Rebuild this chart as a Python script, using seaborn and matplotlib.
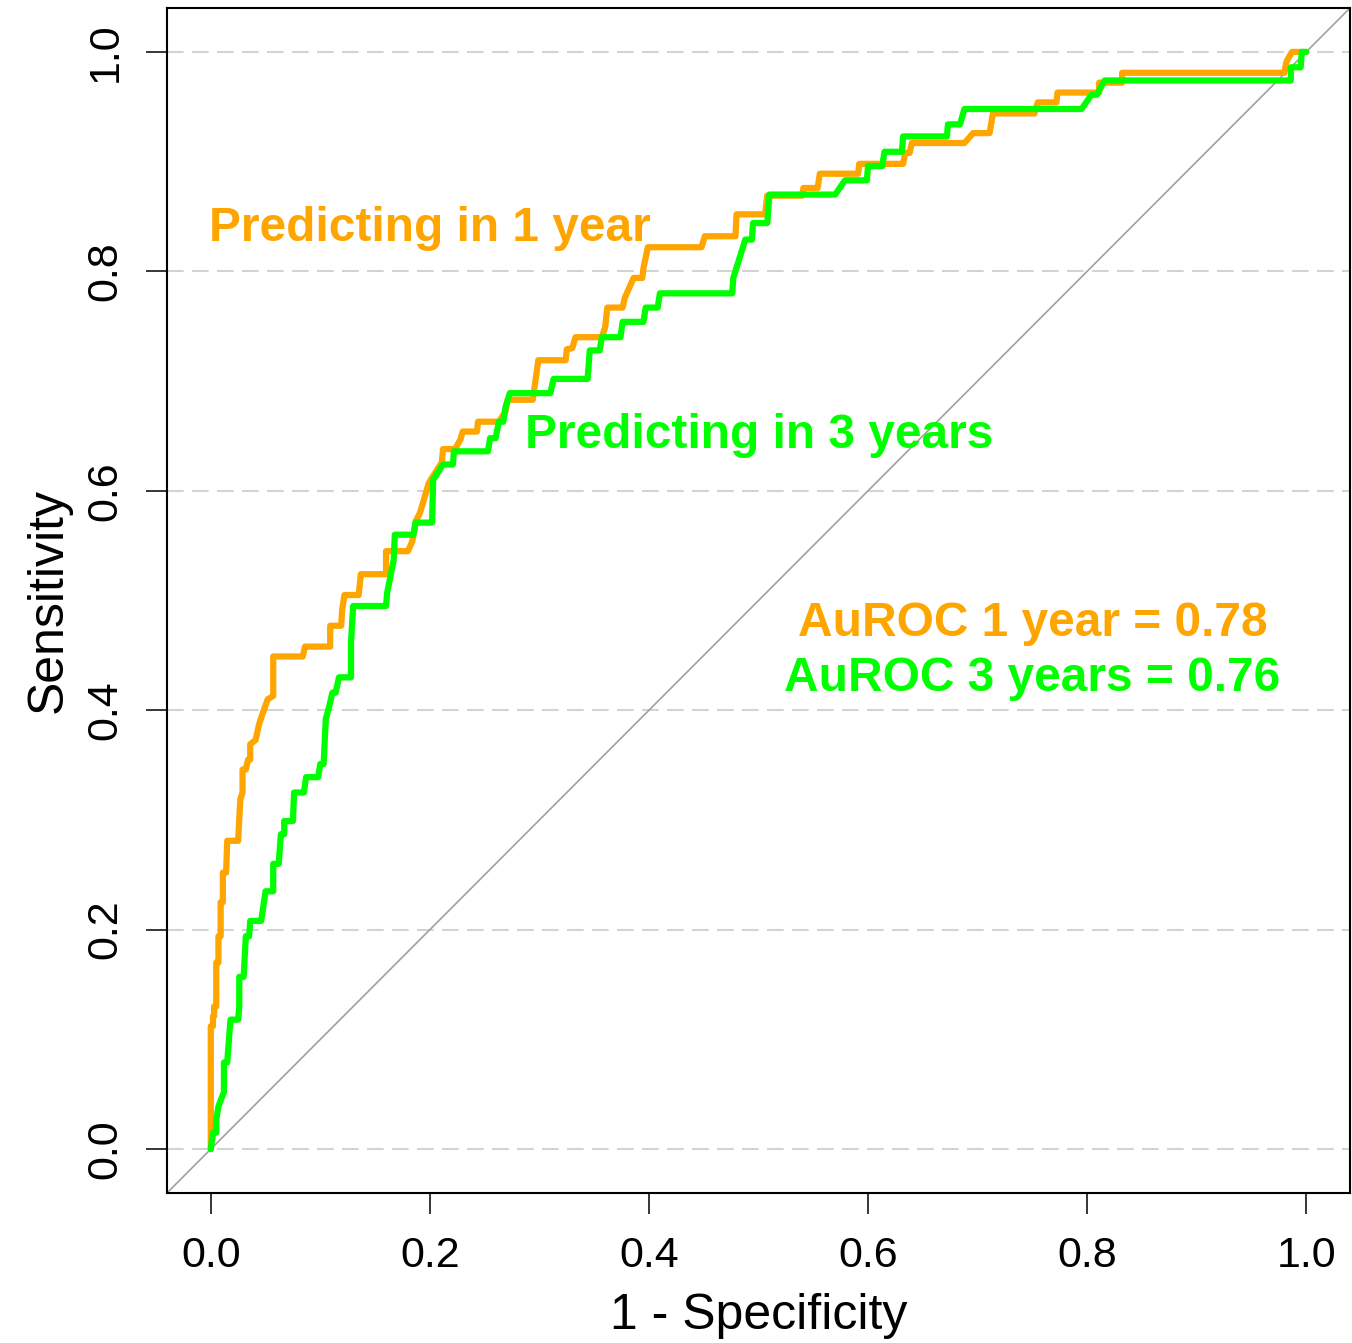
import matplotlib
matplotlib.use("Agg")
import matplotlib.pyplot as plt
import numpy as np
import pandas as pd
import seaborn as sns

# ROC staircase vertices (1 - specificity, sensitivity)
fpr_1y = [0.000, 0.000, 0.002, 0.002, 0.003, 0.003, 0.005, 0.005, 0.007, 0.007,
          0.009, 0.009, 0.011, 0.011, 0.014, 0.015, 0.025, 0.026, 0.027, 0.029,
          0.029, 0.032, 0.034, 0.036, 0.036, 0.041, 0.044, 0.048, 0.052, 0.057,
          0.057, 0.084, 0.086, 0.109, 0.109, 0.119, 0.120, 0.122, 0.135, 0.137,
          0.160, 0.160, 0.180, 0.184, 0.187, 0.191, 0.199, 0.202, 0.211, 0.212,
          0.223, 0.228, 0.230, 0.243, 0.244, 0.263, 0.269, 0.271, 0.294, 0.299,
          0.324, 0.325, 0.330, 0.333, 0.357, 0.360, 0.362, 0.376, 0.378, 0.386,
          0.394, 0.395, 0.399, 0.448, 0.451, 0.479, 0.480, 0.506, 0.508, 0.540,
          0.541, 0.554, 0.556, 0.591, 0.592, 0.632, 0.634, 0.638, 0.640, 0.688,
          0.696, 0.711, 0.714, 0.752, 0.755, 0.772, 0.773, 0.811, 0.811, 0.832,
          0.832, 0.980, 0.982, 0.987, 1.000]
tpr_1y = [0.000, 0.112, 0.112, 0.121, 0.121, 0.130, 0.130, 0.170, 0.170, 0.194,
          0.194, 0.225, 0.225, 0.252, 0.252, 0.281, 0.281, 0.301, 0.319, 0.325,
          0.346, 0.346, 0.355, 0.355, 0.369, 0.373, 0.387, 0.399, 0.410, 0.413,
          0.449, 0.449, 0.458, 0.458, 0.477, 0.477, 0.492, 0.505, 0.505, 0.524,
          0.524, 0.545, 0.545, 0.554, 0.572, 0.580, 0.607, 0.612, 0.626, 0.638,
          0.638, 0.647, 0.654, 0.654, 0.663, 0.663, 0.672, 0.683, 0.683, 0.719,
          0.719, 0.729, 0.730, 0.740, 0.740, 0.749, 0.767, 0.767, 0.776, 0.794,
          0.794, 0.803, 0.822, 0.822, 0.832, 0.832, 0.852, 0.852, 0.869, 0.869,
          0.876, 0.876, 0.889, 0.889, 0.898, 0.898, 0.908, 0.908, 0.917, 0.917,
          0.926, 0.926, 0.944, 0.944, 0.954, 0.954, 0.963, 0.963, 0.972, 0.972,
          0.981, 0.981, 0.991, 1.000, 1.000]

fpr_3y = [0.000, 0.002, 0.005, 0.005, 0.007, 0.012, 0.012, 0.015, 0.018, 0.025,
          0.026, 0.026, 0.030, 0.032, 0.035, 0.036, 0.046, 0.050, 0.057, 0.057,
          0.062, 0.064, 0.067, 0.067, 0.075, 0.076, 0.085, 0.087, 0.098, 0.100,
          0.103, 0.105, 0.108, 0.111, 0.114, 0.117, 0.128, 0.128, 0.130, 0.160,
          0.161, 0.167, 0.168, 0.185, 0.187, 0.202, 0.203, 0.212, 0.221, 0.222,
          0.253, 0.255, 0.260, 0.263, 0.267, 0.269, 0.273, 0.310, 0.313, 0.344,
          0.346, 0.355, 0.357, 0.374, 0.376, 0.395, 0.397, 0.408, 0.410, 0.476,
          0.477, 0.488, 0.494, 0.495, 0.508, 0.510, 0.570, 0.579, 0.599, 0.600,
          0.613, 0.615, 0.631, 0.632, 0.672, 0.673, 0.684, 0.688, 0.795, 0.804,
          0.809, 0.816, 0.986, 0.986, 0.995, 0.996, 1.000]
tpr_3y = [0.000, 0.015, 0.015, 0.027, 0.039, 0.052, 0.079, 0.079, 0.118, 0.118,
          0.130, 0.157, 0.157, 0.194, 0.194, 0.208, 0.208, 0.235, 0.235, 0.260,
          0.260, 0.287, 0.287, 0.299, 0.299, 0.325, 0.325, 0.339, 0.339, 0.351,
          0.351, 0.392, 0.403, 0.416, 0.416, 0.430, 0.430, 0.462, 0.495, 0.495,
          0.507, 0.537, 0.560, 0.560, 0.571, 0.571, 0.610, 0.624, 0.624, 0.636,
          0.636, 0.648, 0.648, 0.663, 0.663, 0.676, 0.689, 0.689, 0.702, 0.702,
          0.728, 0.728, 0.740, 0.740, 0.754, 0.754, 0.767, 0.767, 0.780, 0.780,
          0.794, 0.829, 0.829, 0.844, 0.844, 0.870, 0.870, 0.883, 0.883, 0.896,
          0.896, 0.909, 0.909, 0.923, 0.923, 0.934, 0.934, 0.948, 0.948, 0.961,
          0.961, 0.974, 0.974, 0.986, 0.986, 1.000, 1.000]

curve_names = ["1 year", "3 years"]
auroc_values = [0.78, 0.76]
tick_values = [0.0, 0.2, 0.4, 0.6, 0.8, 1.0]
tick_labels = ["0.0", "0.2", "0.4", "0.6", "0.8", "1.0"]

ORANGE = "#FFA500"
GREEN = "#00FF00"

df = pd.concat([
    pd.DataFrame({"fpr": fpr_1y, "tpr": tpr_1y, "curve": curve_names[0]}),
    pd.DataFrame({"fpr": fpr_3y, "tpr": tpr_3y, "curve": curve_names[1]}),
], ignore_index=True)

sns.set_style("white")
plt.rcParams["font.family"] = ["Liberation Sans", "DejaVu Sans"]
plt.rcParams["text.color"] = "black"
plt.rcParams["axes.labelcolor"] = "black"
plt.rcParams["xtick.color"] = "black"
plt.rcParams["ytick.color"] = "black"

fig = plt.figure(figsize=(13.52, 13.43), dpi=100)
ax = fig.add_axes([0.1235, 0.1117, 0.875, 0.8823])

# reference grid and chance diagonal
for v in tick_values:
    ax.axhline(v, color="#D3D3D3", lw=1.5, dashes=(8, 4), zorder=0)
ax.axline((0, 0), (1, 1), color="#A0A0A0", lw=1.2, zorder=1)

sns.lineplot(data=df, x="fpr", y="tpr", hue="curve", hue_order=curve_names,
             palette={curve_names[0]: ORANGE, curve_names[1]: GREEN},
             sort=False, estimator=None, lw=4.5, legend=False, ax=ax, zorder=3)

ax.set_xlim(-0.04, 1.04)
ax.set_ylim(-0.04, 1.04)
ax.set_xticks(tick_values)
ax.set_xticklabels(tick_labels)
ax.set_yticks(tick_values)
ax.set_yticklabels(tick_labels, rotation=90, va="center")
ax.tick_params(axis="both", direction="out", length=15, width=1.1,
               labelsize=31, color="black", labelcolor="black",
               bottom=True, left=True)
ax.tick_params(axis="x", pad=16)
ax.tick_params(axis="y", pad=15)
for s in ax.spines.values():
    s.set_color("black")
    s.set_linewidth(1.5)

ax.set_xlabel("1 - Specificity", fontsize=36, labelpad=12, color="black")
ax.set_ylabel("Sensitivity", fontsize=36, labelpad=10, color="black")

ax.text(-0.002, 0.839, "Predicting in 1 year", color=ORANGE, fontsize=34.5,
        fontweight="bold", ha="left", va="center", zorder=4)
ax.text(0.287, 0.650, "Predicting in 3 years", color=GREEN, fontsize=34.5,
        fontweight="bold", ha="left", va="center", zorder=4)
ax.text(0.75, 0.479, f"AuROC 1 year = {auroc_values[0]:.2f}", color=ORANGE,
        fontsize=34.5, fontweight="bold", ha="center", va="center", zorder=4)
ax.text(0.75, 0.429, f"AuROC 3 years = {auroc_values[1]:.2f}", color=GREEN,
        fontsize=34.5, fontweight="bold", ha="center", va="center", zorder=4)

fig.savefig("out.png", dpi=100, facecolor="white")
